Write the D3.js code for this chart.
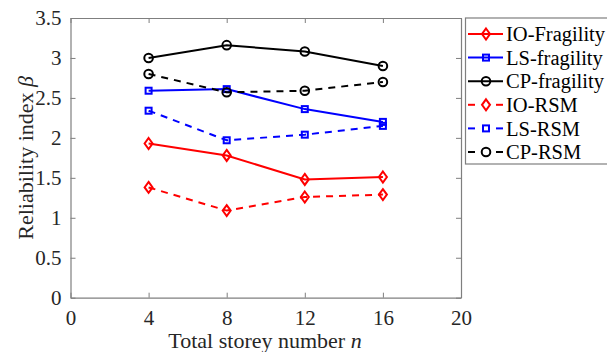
<!DOCTYPE html>
<html>
<head>
<meta charset="utf-8">
<script src="https://cdn.jsdelivr.net/npm/d3@7"></script>
<style>
  html, body { margin: 0; padding: 0; background: #fff; }
  svg { display: block; }
</style>
</head>
<body>
<svg id="chart" width="607" height="352"></svg>
<script>
// Storey counts on the x axis
const storeys = [4, 8, 12, 16];

// Reliability index values per method / performance level
const ioFragility = [1.93, 1.78, 1.48, 1.51];
const lsFragility = [2.59, 2.61, 2.36, 2.20];
const cpFragility = [3.00, 3.16, 3.08, 2.90];
const ioRSM = [1.38, 1.09, 1.26, 1.29];
const lsRSM = [2.34, 1.97, 2.04, 2.15];
const cpRSM = [2.80, 2.57, 2.59, 2.70];

const seriesNames = ["IO-Fragility", "LS-fragility", "CP-fragility", "IO-RSM", "LS-RSM", "CP-RSM"];

const xTicks = [0, 4, 8, 12, 16, 20];
const yTicks = [0, 0.5, 1, 1.5, 2, 2.5, 3, 3.5];

const series = [
  { name: seriesNames[0], values: ioFragility, color: "#ff0000", dashed: false, marker: "diamond" },
  { name: seriesNames[1], values: lsFragility, color: "#0000ff", dashed: false, marker: "square" },
  { name: seriesNames[2], values: cpFragility, color: "#000000", dashed: false, marker: "circle" },
  { name: seriesNames[3], values: ioRSM, color: "#ff0000", dashed: true, marker: "diamond" },
  { name: seriesNames[4], values: lsRSM, color: "#0000ff", dashed: true, marker: "square" },
  { name: seriesNames[5], values: cpRSM, color: "#000000", dashed: true, marker: "circle" }
];

const FONT = '"Liberation Serif"';
const DASH = "7,6";

const svg = d3.select("#chart");
const margin = { left: 70.5, top: 18, right: 461, bottom: 297.7 };

const x = d3.scaleLinear().domain([0, 20]).range([margin.left, margin.right]);
const y = d3.scaleLinear().domain([0, 3.5]).range([margin.bottom, margin.top]);

const axisColor = "#7f7f7f";
const tickLen = 5;

// Axes: bottom/left with labels, top/right mirrored ticks only
const gx = svg.append("g").attr("transform", `translate(0,${margin.bottom})`)
  .call(d3.axisBottom(x).tickValues(xTicks).tickFormat(d3.format("d")).tickSizeInner(-tickLen).tickSizeOuter(0).tickPadding(12));
const gy = svg.append("g").attr("transform", `translate(${margin.left},0)`)
  .call(d3.axisLeft(y).tickValues(yTicks).tickFormat(d => String(d)).tickSizeInner(-tickLen).tickSizeOuter(0).tickPadding(9));
const gxTop = svg.append("g").attr("transform", `translate(0,${margin.top})`)
  .call(d3.axisTop(x).tickValues(xTicks).tickFormat("").tickSizeInner(-tickLen).tickSizeOuter(0));
const gyRight = svg.append("g").attr("transform", `translate(${margin.right},0)`)
  .call(d3.axisRight(y).tickValues(yTicks).tickFormat("").tickSizeInner(-tickLen).tickSizeOuter(0));

[gx, gy, gxTop, gyRight].forEach(g => {
  g.attr("font-family", null);
  g.select(".domain").attr("stroke", axisColor).attr("stroke-width", 1.2);
  g.selectAll(".tick line").attr("stroke", axisColor);
  g.selectAll(".tick text").attr("fill", "#262626")
    .style("font-family", FONT).style("font-size", "21px");
});
gx.selectAll(".tick text").attr("dy", "0.71em");

// Axis titles
svg.append("text")
  .attr("x", 265)
  .attr("y", 348)
  .attr("text-anchor", "middle")
  .attr("fill", "#262626")
  .style("font-family", FONT)
  .style("font-size", "22px")
  .html('Total storey number <tspan font-style="italic">n</tspan>');

svg.append("text")
  .attr("transform", `translate(33,${(margin.top + margin.bottom) / 2}) rotate(-90)`)
  .attr("text-anchor", "middle")
  .attr("fill", "#262626")
  .style("font-family", FONT)
  .style("font-size", "22px")
  .html('Reliability index <tspan font-style="italic">β</tspan>');

// Marker shapes
function drawMarker(g, type, cx, cy, color) {
  if (type === "diamond") {
    g.append("path")
      .attr("d", `M${cx},${cy - 5.5}L${cx + 4},${cy}L${cx},${cy + 5.5}L${cx - 4},${cy}Z`)
      .attr("fill", "none").attr("stroke", color).attr("stroke-width", 2);
  } else if (type === "square") {
    g.append("rect")
      .attr("x", cx - 3).attr("y", cy - 3).attr("width", 6).attr("height", 6)
      .attr("fill", "none").attr("stroke", color).attr("stroke-width", 2);
  } else {
    g.append("circle")
      .attr("cx", cx).attr("cy", cy).attr("r", 4.3)
      .attr("fill", "none").attr("stroke", color).attr("stroke-width", 2);
  }
}

const line = d3.line().x((d, i) => x(storeys[i])).y(d => y(d));

const plot = svg.append("g");
series.forEach(s => {
  plot.append("path")
    .datum(s.values)
    .attr("d", line)
    .attr("fill", "none")
    .attr("stroke", s.color)
    .attr("stroke-width", 2)
    .attr("stroke-dasharray", s.dashed ? DASH : null);
  const mg = plot.append("g");
  s.values.forEach((v, i) => drawMarker(mg, s.marker, x(storeys[i]), y(v), s.color));
});

// Legend
const legend = svg.append("g");
legend.append("rect")
  .attr("x", 465.5).attr("y", 18).attr("width", 150).attr("height", 146)
  .attr("fill", "#fff").attr("stroke", axisColor).attr("stroke-width", 1.2);

const legendY = d3.scalePoint().domain(seriesNames).range([34, 152]);
series.forEach(s => {
  const ly = legendY(s.name);
  const segs = s.dashed ? [[468, 475], [496, 503]] : [[468, 503]];
  segs.forEach(([a, b]) => {
    legend.append("line")
      .attr("x1", a).attr("x2", b).attr("y1", ly).attr("y2", ly)
      .attr("stroke", s.color).attr("stroke-width", 2);
  });
  drawMarker(legend, s.marker, 486, ly, s.color);
  legend.append("text")
    .attr("x", 506).attr("y", ly).attr("dy", "0.35em")
    .attr("fill", "#000")
    .style("font-family", FONT)
    .style("font-size", "20.5px")
    .text(s.name);
});
</script>
</body>
</html>
